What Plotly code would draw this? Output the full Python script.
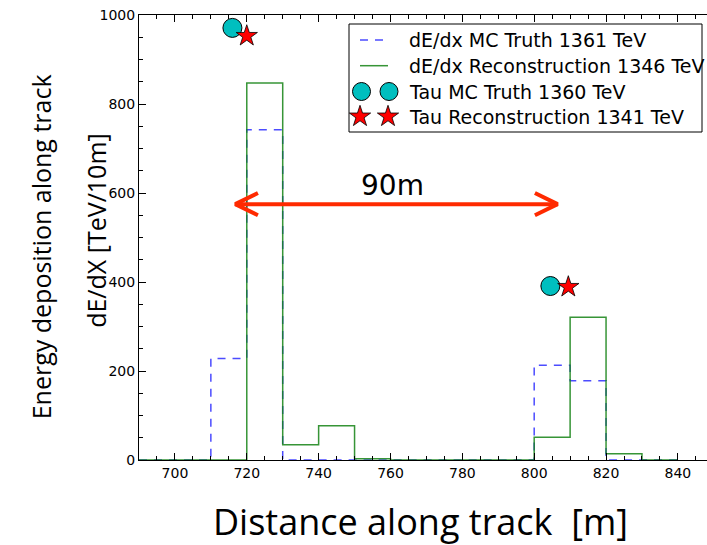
import plotly.graph_objects as go

# ---- data ----
bin_edges = [690, 700, 710, 720, 730, 740, 750, 760, 770, 780, 790, 800, 810, 820, 830, 840]
mc_truth = [0, 0, 228, 742, 0, 0, 0, 0, 0, 0, 0, 213, 178, 0, 0]
reco = [0, 0, 0, 847, 34, 77, 3, 0, 0, 0, 0, 51, 321, 14, 0]
tau_mc_x = [716, 804.5]
tau_mc_y = [971, 391]
tau_reco_x = [720, 809.5]
tau_reco_y = [953, 389]
arrow_x = [716.8, 806.5]
arrow_y = 575
arrow_label = "90m"
x_ticks = [700, 720, 740, 760, 780, 800, 820, 840]
y_ticks = [0, 200, 400, 600, 800, 1000]

names = ["dE/dx MC Truth 1361 TeV", "dE/dx Reconstruction 1346 TeV",
         "Tau MC Truth 1360 TeV", "Tau Reconstruction 1341 TeV"]

BLUE = "rgba(45,45,255,0.85)"
GREEN = "rgba(20,130,20,0.85)"
CYAN = "#00BFBF"
RED = "#FF0000"
DASH = "8px,7px"

fig = go.Figure()
fig.add_trace(go.Scatter(x=bin_edges, y=mc_truth + [mc_truth[-1]], mode="lines",
                         line=dict(shape="hv", color=BLUE, width=1.5, dash=DASH),
                         name=names[0], showlegend=False))
fig.add_trace(go.Scatter(x=bin_edges, y=reco + [reco[-1]], mode="lines",
                         line=dict(shape="hv", color=GREEN, width=1.5),
                         name=names[1], showlegend=False))
fig.add_trace(go.Scatter(x=tau_mc_x, y=tau_mc_y, mode="markers",
                         marker=dict(symbol="circle", size=19, color=CYAN,
                                     line=dict(color="black", width=1)),
                         name=names[2], showlegend=False))
fig.add_trace(go.Scatter(x=tau_reco_x, y=tau_reco_y, mode="markers",
                         marker=dict(symbol="star", size=16, color=RED,
                                     line=dict(color="black", width=0.8)),
                         name=names[3], showlegend=False))

# double-headed arrow
arrow_color = "#FF2A00"
hx, hy = 6.3, 25
fig.add_trace(go.Scatter(x=arrow_x, y=[arrow_y, arrow_y], mode="lines",
                         line=dict(color=arrow_color, width=4), showlegend=False, hoverinfo="skip"))
for tip, sgn in ((arrow_x[0], 1), (arrow_x[1], -1)):
    fig.add_trace(go.Scatter(x=[tip + sgn * hx, tip, tip + sgn * hx],
                             y=[arrow_y + hy, arrow_y, arrow_y - hy], mode="lines",
                             line=dict(color=arrow_color, width=4), showlegend=False, hoverinfo="skip"))
fig.add_annotation(x=(arrow_x[0] + arrow_x[1]) / 2 - 1, y=arrow_y, text=arrow_label, showarrow=False,
                   yshift=19, font=dict(family="DejaVu Sans", size=28, color="black"))

# ---- manual legend on a pixel-based overlay axis ----
L_LEFT, L_RIGHT, L_TOP, L_BOT = 349, 702, 24, 132
rows = [40, 65.7, 91.5, 116.5]
fig.add_shape(type="rect", xref="x2", yref="y2", x0=L_LEFT, x1=L_RIGHT, y0=L_TOP, y1=L_BOT,
              line=dict(color="black", width=1), fillcolor="white", layer="below")
fig.add_trace(go.Scatter(x=[360, 388], y=[rows[0], rows[0]], xaxis="x2", yaxis="y2", mode="lines",
                         line=dict(color=BLUE, width=1.5, dash=DASH), showlegend=False, hoverinfo="skip"))
fig.add_trace(go.Scatter(x=[360, 388], y=[rows[1], rows[1]], xaxis="x2", yaxis="y2", mode="lines",
                         line=dict(color=GREEN, width=1.5), showlegend=False, hoverinfo="skip"))
fig.add_trace(go.Scatter(x=[361.5, 389], y=[rows[2], rows[2]], xaxis="x2", yaxis="y2", mode="markers",
                         marker=dict(symbol="circle", size=18, color=CYAN, line=dict(color="black", width=1)),
                         showlegend=False, hoverinfo="skip"))
fig.add_trace(go.Scatter(x=[360, 388], y=[rows[3], rows[3]], xaxis="x2", yaxis="y2", mode="markers",
                         marker=dict(symbol="star", size=16, color=RED, line=dict(color="black", width=0.8)),
                         showlegend=False, hoverinfo="skip"))
for r, n in zip(rows, names):
    fig.add_annotation(x=407, y=r, xref="x2", yref="y2", text=n, showarrow=False,
                       xanchor="left", yanchor="middle",
                       font=dict(family="DejaVu Sans", size=19, color="black"))

axis_common = dict(showgrid=False, zeroline=False, showline=True, linecolor="black", linewidth=1,
                   ticks="inside", ticklen=7, tickcolor="black",
                   tickfont=dict(family="DejaVu Sans", size=14, color="black"))

fig.update_layout(xaxis=dict(range=[690, 848.1], tickvals=x_ticks, mirror="ticks",
                             minor=dict(dtick=5, tick0=690, ticks="inside", ticklen=4, tickcolor="black"),
                             **axis_common),
                  yaxis=dict(range=[0, 1000], tickvals=y_ticks, mirror=False,
                             minor=dict(dtick=50, ticks="inside", ticklen=4, tickcolor="black"),
                             **axis_common),
                  xaxis2=dict(overlaying="x", range=[139, 707], visible=False, fixedrange=True),
                  yaxis2=dict(overlaying="y", range=[460, 15], visible=False, fixedrange=True))

# axis titles
TITLE_FONT = "Open Sans, Lato, sans-serif"
fig.add_annotation(text="Energy deposition along track", xref="paper", yref="paper",
                   x=-0.1725, y=0.478, textangle=-90, showarrow=False, xanchor="center", yanchor="middle",
                   font=dict(family=TITLE_FONT, size=25, color="black"))
fig.add_annotation(text="dE/dX [TeV/10m]", xref="paper", yref="paper",
                   x=-0.0757, y=0.515, textangle=-90, showarrow=False, xanchor="center", yanchor="middle",
                   font=dict(family=TITLE_FONT, size=25, color="black"))
fig.add_annotation(text="Distance along track\u00a0\u00a0[m]", xref="paper", yref="paper",
                   x=0.495, y=-0.139, showarrow=False, xanchor="center", yanchor="middle",
                   font=dict(family=TITLE_FONT, size=36, color="black"))

fig.update_layout(
    width=707, height=545,
    margin=dict(l=139, r=0, t=15, b=85),
    plot_bgcolor="white", paper_bgcolor="white",
    showlegend=False,
)

fig.write_html("out.html")
